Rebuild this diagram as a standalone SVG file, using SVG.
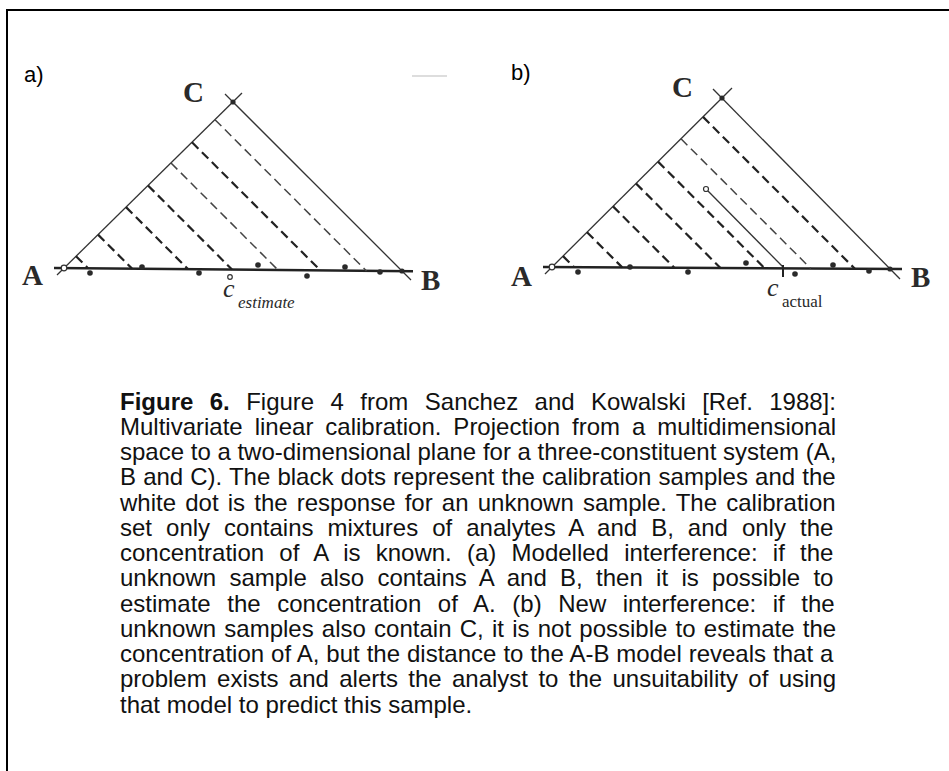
<svg xmlns="http://www.w3.org/2000/svg" width="949" height="771" viewBox="0 0 949 771">
<style>
.side{stroke:#333;stroke-width:1.3;fill:none}
.base{stroke:#222;stroke-width:2.6;fill:none}
.dash{stroke:#222;stroke-width:2.2;stroke-dasharray:9 5;fill:none}
.dashl{stroke:#444;stroke-width:1.5;stroke-dasharray:9 5;fill:none}
.dot{fill:#2a2a2a}
.odot{fill:#fff;stroke:#333;stroke-width:1.2}
.lbl{font-family:"Liberation Serif","Times New Roman",serif;font-weight:bold;font-size:29px;fill:#2a2a2a}
.tag{font-family:"Liberation Sans",Arial,sans-serif;font-size:22px;fill:#000}
.cap{font-family:"Liberation Sans",Arial,sans-serif;font-size:24px;fill:#111}
.ci{font-family:"Liberation Serif","Times New Roman",serif;font-style:italic;fill:#2a2a2a}
.cs{font-family:"Liberation Serif","Times New Roman",serif;fill:#2a2a2a}
</style>
<rect width="949" height="771" fill="#fff"/>
<g id="frame" stroke="#000" stroke-width="2" fill="none">
<path d="M7 771 V10 H949"/>
</g>
<g id="panel-a">
<text class="tag" x="24" y="82">a)</text>
<line x1="412" y1="76" x2="447" y2="76" stroke="#bbb" stroke-width="1"/>
<g id="a-connectors">
<line class="side" x1="57" y1="275" x2="242" y2="93"/>
<line class="side" x1="225" y1="94" x2="411" y2="280"/>
<line class="base" x1="54" y1="268" x2="413" y2="271.2"/>
<line class="dash" x1="76" y1="256.2" x2="88" y2="268.2"/>
<line class="dash" x1="98" y1="234.6" x2="132" y2="268.6"/>
<line class="dash" x1="126" y1="207.1" x2="188" y2="269.1"/>
<line class="dash" x1="148" y1="185.5" x2="232" y2="269.5"/>
<line class="dashl" x1="171" y1="163" x2="278" y2="270"/>
<line class="dash" x1="192" y1="142.3" x2="320.5" y2="270.5"/>
<line class="dashl" x1="215" y1="119.7" x2="366.5" y2="271"/>
</g>
<circle class="odot" cx="64" cy="268" r="2.8"/>
<circle class="dot" cx="233" cy="102" r="2.6"/>
<circle class="dot" cx="402" cy="271" r="2.6"/>
<circle class="dot" cx="90" cy="273" r="2.8"/>
<circle class="dot" cx="142" cy="267" r="2.8"/>
<circle class="dot" cx="199" cy="273" r="2.8"/>
<circle class="dot" cx="258" cy="265" r="2.8"/>
<circle class="dot" cx="307" cy="276" r="2.8"/>
<circle class="dot" cx="345" cy="267" r="2.8"/>
<circle class="dot" cx="380" cy="272" r="2.8"/>
<circle class="odot" cx="230" cy="277" r="2.3"/>
<text class="lbl" x="22" y="285">A</text>
<text class="lbl" x="183" y="102">C</text>
<text class="lbl" x="421" y="290">B</text>
<text class="ci" x="223" y="297" font-size="26">c</text>
<text class="ci" x="238" y="308" font-size="17">estimate</text>
</g>
<g id="panel-b">
<text class="tag" x="511" y="80">b)</text>
<g id="b-connectors">
<line class="side" x1="545" y1="274" x2="732" y2="88"/>
<line class="side" x1="713" y1="89" x2="900" y2="279"/>
<line class="base" x1="543" y1="267" x2="902" y2="269"/>
<line class="dash" x1="563" y1="256.1" x2="574" y2="267.1"/>
<line class="dash" x1="587" y1="232.2" x2="622.2" y2="267.4"/>
<line class="dash" x1="613" y1="206.4" x2="674.3" y2="267.7"/>
<line class="dash" x1="636" y1="183.5" x2="720.5" y2="268"/>
<line class="dash" x1="658" y1="161.6" x2="764.7" y2="268.3"/>
<line class="dashl" x1="681" y1="138.8" x2="810.7" y2="268.5"/>
<line class="dash" x1="703" y1="116.9" x2="854.9" y2="268.8"/>
<line class="side" x1="708" y1="191" x2="783" y2="267"/>
<line stroke="#222" stroke-width="2" x1="783" y1="265" x2="783" y2="277"/>
</g>
<circle class="odot" cx="552" cy="267" r="2.8"/>
<circle class="dot" cx="722" cy="98" r="2.6"/>
<circle class="dot" cx="890" cy="269" r="2.6"/>
<circle class="dot" cx="578" cy="272" r="2.8"/>
<circle class="dot" cx="630" cy="267" r="2.8"/>
<circle class="dot" cx="688" cy="272" r="2.8"/>
<circle class="dot" cx="746" cy="263" r="2.8"/>
<circle class="dot" cx="795" cy="274" r="2.8"/>
<circle class="dot" cx="833" cy="265" r="2.8"/>
<circle class="dot" cx="869" cy="271" r="2.8"/>
<circle class="odot" cx="706" cy="189" r="2.5"/>
<text class="lbl" x="511" y="286">A</text>
<text class="lbl" x="672" y="97">C</text>
<text class="lbl" x="911" y="287">B</text>
<text class="ci" x="767" y="296" font-size="26">c</text>
<text class="cs" x="782" y="307" font-size="17">actual</text>
</g>
<g id="caption" class="cap">
<text x="120" y="409.5" word-spacing="9.74"><tspan font-weight="bold">Figure 6.</tspan> Figure 4 from Sanchez and Kowalski [Ref. 1988]:</text>
<text x="120" y="434.75" word-spacing="5.3">Multivariate linear calibration. Projection from a multidimensional</text>
<text x="120" y="460">space to a two-dimensional plane for a three-constituent system (A,</text>
<text x="120" y="485.25" word-spacing="0.45">B and C). The black dots represent the calibration samples and the</text>
<text x="120" y="510.5" word-spacing="2.5">white dot is the response for an unknown sample. The calibration</text>
<text x="120" y="535.75" word-spacing="7.36">set only contains mixtures of analytes A and B, and only the</text>
<text x="120" y="561" word-spacing="8.56">concentration of A is known. (a) Modelled interference: if the</text>
<text x="120" y="586.25" word-spacing="6.64">unknown sample also contains A and B, then it is possible to</text>
<text x="120" y="611.5" word-spacing="9.89">estimate the concentration of A. (b) New interference: if the</text>
<text x="120" y="636.75" word-spacing="1.55">unknown samples also contain C, it is not possible to estimate the</text>
<text x="120" y="662" word-spacing="0.3">concentration of A, but the distance to the A-B model reveals that a</text>
<text x="120" y="687.25" word-spacing="3.7">problem exists and alerts the analyst to the unsuitability of using</text>
<text x="120" y="712.5">that model to predict this sample.</text>
</g>
</svg>
